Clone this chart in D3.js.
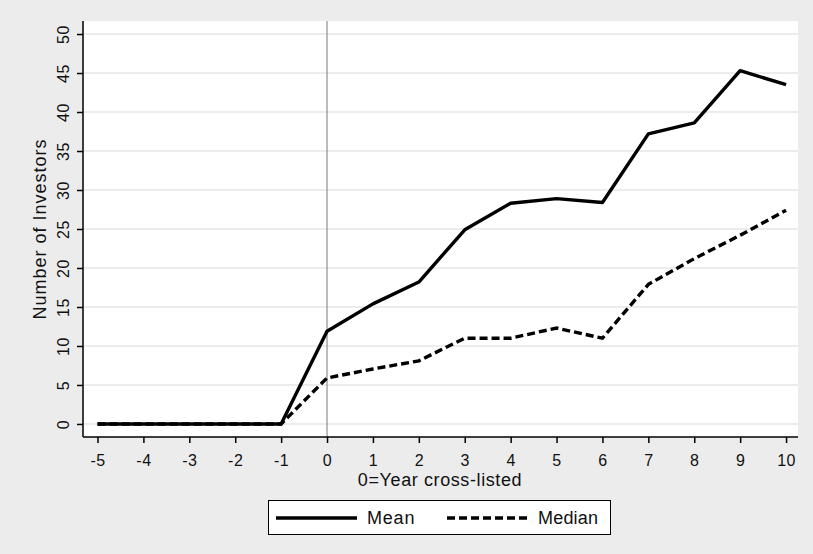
<!DOCTYPE html>
<html>
<head>
<meta charset="utf-8">
<script src="https://cdn.jsdelivr.net/npm/d3@7"></script>
<style>
  body { margin: 0; background: #ececec; }
  text { font-family: "Liberation Sans", Arial, sans-serif; fill: #111; }
</style>
</head>
<body>
<div id="chart"></div>
<script>
// years relative to cross-listing
var years = [-5,-4,-3,-2,-1,0,1,2,3,4,5,6,7,8,9,10];
var meanInv = [0,0,0,0,0,11.9,15.4,18.2,24.9,28.3,28.9,28.4,37.2,38.6,45.3,43.5];
var medianInv = [0,0,0,0,0,5.9,7.05,8.1,11,11,12.3,11,17.9,21.2,24.2,27.4];
var yTicks = [0,5,10,15,20,25,30,35,40,45,50];
var seriesNames = ["Mean", "Median"];

var W = 813, H = 554;
var plot = {left: 83, right: 798, top: 21, bottom: 437};

var svg = d3.select("#chart")
  .append("svg")
    .attr("width", W)
    .attr("height", H);

svg.append("rect")
  .attr("width", W).attr("height", H)
  .style("fill", "#ececec");

// plot region
svg.append("rect")
  .attr("x", plot.left).attr("y", plot.top)
  .attr("width", plot.right - plot.left).attr("height", plot.bottom - plot.top)
  .style("fill", "#ffffff");

var x = d3.scaleLinear()
  .domain([-5.316, 10.26])
  .range([plot.left, plot.right]);

var y = d3.scaleLinear()
  .domain([-1.67, 51.67])
  .range([plot.bottom, plot.top]);

// gridlines
svg.append("g")
  .selectAll("line")
  .data(yTicks)
  .enter()
  .append("line")
    .attr("x1", plot.left).attr("x2", plot.right)
    .attr("y1", function(d) { return y(d); })
    .attr("y2", function(d) { return y(d); })
    .style("stroke", "#e6e6e6")
    .style("stroke-width", 1.5);

// vertical line at year 0
svg.append("line")
  .attr("x1", x(0)).attr("x2", x(0))
  .attr("y1", plot.top).attr("y2", plot.bottom)
  .style("stroke", "#7a7a7a")
  .style("stroke-width", 1);

// Y axis
var yAxis = svg.append("g")
  .attr("transform", "translate(" + plot.left + ",0)")
  .call(d3.axisLeft(y).tickValues(yTicks).tickSize(6).tickPadding(4));
yAxis.select(".domain").remove();
yAxis.append("line")
  .attr("x1", 0).attr("x2", 0)
  .attr("y1", plot.top).attr("y2", plot.bottom)
  .style("stroke", "#000").style("stroke-width", 1.5);
yAxis.selectAll(".tick line").style("stroke", "#000").style("stroke-width", 1.5);
yAxis.selectAll(".tick text")
  .attr("x", 0).attr("dy", null)
  .attr("text-anchor", "middle")
  .attr("transform", "translate(-20,0) rotate(-90)")
  .attr("dominant-baseline", "central")
  .style("font-size", "16px")
  .style("letter-spacing", "0.5px")
  .style("fill", "#111");

// Y axis label
svg.append("text")
  .attr("text-anchor", "middle")
  .attr("transform", "translate(40," + ((plot.top + plot.bottom) / 2) + ") rotate(-90)")
  .attr("dominant-baseline", "central")
  .text("Number of Investors")
  .style("font-size", "18px")
  .style("letter-spacing", "1px");

// X axis
var xAxis = svg.append("g")
  .attr("transform", "translate(0," + plot.bottom + ")")
  .call(d3.axisBottom(x).tickValues(years).tickFormat(d3.format("d")).tickSize(6).tickPadding(12));
xAxis.select(".domain").remove();
xAxis.append("line")
  .attr("x1", plot.left).attr("x2", plot.right)
  .attr("y1", 0).attr("y2", 0)
  .style("stroke", "#000").style("stroke-width", 1.5);
xAxis.selectAll(".tick line").style("stroke", "#000").style("stroke-width", 1.5);
xAxis.selectAll(".tick text")
  .style("font-size", "16px")
  .style("letter-spacing", "0.5px")
  .style("fill", "#111")
  .text(function(d) { return d < 0 ? "-" + Math.abs(d) : d; });

// X axis label
svg.append("text")
  .attr("text-anchor", "middle")
  .attr("x", 440)
  .attr("y", 486)
  .text("0=Year cross-listed")
  .style("font-size", "18px")
  .style("letter-spacing", "0.6px");

// lines
var line = d3.line()
  .x(function(d, i) { return x(years[i]); })
  .y(function(d) { return y(d); });

svg.append("path")
  .datum(medianInv)
  .attr("d", line)
  .style("fill", "none")
  .style("stroke", "#000")
  .style("stroke-width", 3.4)
  .style("stroke-dasharray", "8,4");

svg.append("path")
  .datum(meanInv)
  .attr("d", line)
  .style("fill", "none")
  .style("stroke", "#000")
  .style("stroke-width", 3.4)
  .style("stroke-linejoin", "round");

// Handmade legend
var lg = svg.append("g");
lg.append("rect")
  .attr("x", 268.5).attr("y", 500.5)
  .attr("width", 342).attr("height", 34)
  .style("fill", "#fff").style("stroke", "#000").style("stroke-width", 1);
lg.append("line").attr("x1", 276).attr("x2", 357).attr("y1", 518).attr("y2", 518)
  .style("stroke", "#000").style("stroke-width", 3.4);
lg.append("text").attr("x", 367).attr("y", 518).attr("dominant-baseline", "central")
  .text(seriesNames[0]).style("font-size", "18px").style("letter-spacing", "0.8px");
lg.append("line").attr("x1", 447).attr("x2", 528).attr("y1", 518).attr("y2", 518)
  .style("stroke", "#000").style("stroke-width", 3.4).style("stroke-dasharray", "8,4");
lg.append("text").attr("x", 538).attr("y", 518).attr("dominant-baseline", "central")
  .text(seriesNames[1]).style("font-size", "18px").style("letter-spacing", "0.2px");
</script>
</body>
</html>
